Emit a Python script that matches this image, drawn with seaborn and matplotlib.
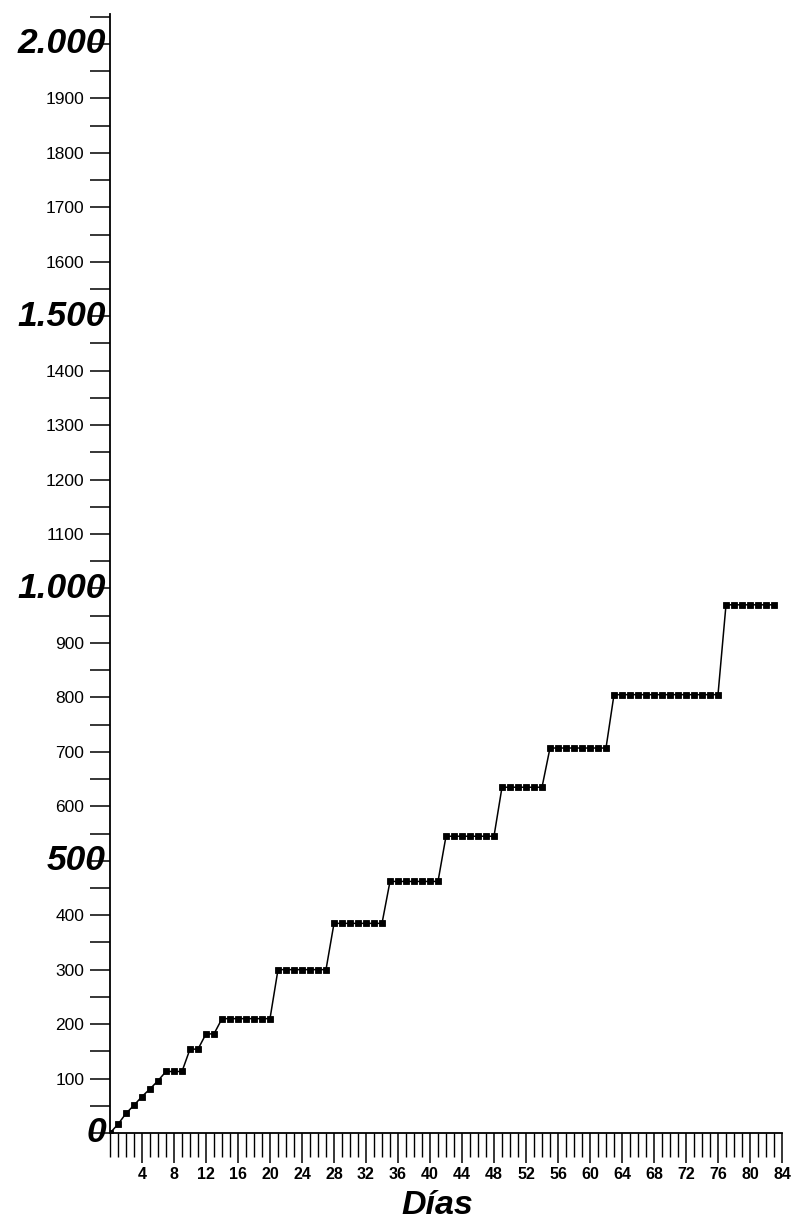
import matplotlib
matplotlib.use("Agg")
import matplotlib.pyplot as plt
import seaborn as sns
import pandas as pd
from matplotlib.ticker import FixedLocator, FuncFormatter

# ---- data ----
dias = [0, 1, 2, 3, 4, 5, 6, 7, 8, 9, 10, 11, 12, 13, 14, 15, 16, 17, 18, 19, 20,
        21, 22, 23, 24, 25, 26, 27, 28, 29, 30, 31, 32, 33, 34, 35, 36, 37, 38, 39,
        40, 41, 42, 43, 44, 45, 46, 47, 48, 49, 50, 51, 52, 53, 54, 55, 56, 57, 58,
        59, 60, 61, 62, 63, 64, 65, 66, 67, 68, 69, 70, 71, 72, 73, 74, 75, 76, 77,
        78, 79, 80, 81, 82, 83]
valores = [0, 16, 36, 51, 67, 81, 96,
           113, 113, 113,
           154, 154,
           182, 182,
           210, 210, 210, 210, 210, 210, 210,
           300, 300, 300, 300, 300, 300, 300,
           385, 385, 385, 385, 385, 385, 385,
           462, 462, 462, 462, 462, 462, 462,
           545, 545, 545, 545, 545, 545, 545,
           635, 635, 635, 635, 635, 635,
           707, 707, 707, 707, 707, 707, 707, 707,
           805, 805, 805, 805, 805, 805, 805, 805, 805, 805, 805, 805, 805, 805,
           970, 970, 970, 970, 970, 970, 970]

x_major = [4, 8, 12, 16, 20, 24, 28, 32, 36, 40, 44, 48, 52, 56, 60, 64, 68, 72, 76, 80, 84]
x_labels = ["4", "8", "12", "16", "20", "24", "28", "32", "36", "40", "44", "48",
            "52", "56", "60", "64", "68", "72", "76", "80", "84"]
y_major = [0, 100, 200, 300, 400, 500, 600, 700, 800, 900, 1000,
           1100, 1200, 1300, 1400, 1500, 1600, 1700, 1800, 1900, 2000]
y_bold = [0, 500, 1000, 1500, 2000]
y_bold_labels = ["0", "500", "1.000", "1.500", "2.000"]
x_title = "Días"

df = pd.DataFrame({"dias": dias, "valores": valores})

sns.set_theme(style="ticks")
plt.rcParams["font.family"] = ["Liberation Sans", "DejaVu Sans"]

W, H = 793, 1226
fig = plt.figure(figsize=(W / 100, H / 100), dpi=100)
ax = fig.add_axes([110 / W, (H - 1133) / H, 672 / W, 1119 / H])

sns.lineplot(data=df, x="dias", y="valores", ax=ax, color="black",
             linewidth=1.1, marker="s", markersize=4, markeredgewidth=0.6,
             markeredgecolor="black", markerfacecolor="black")

ax.set_xlim(0, 84)
ax.set_ylim(0, 2055)

for s in ["top", "right"]:
    ax.spines[s].set_visible(False)
for s in ["left", "bottom"]:
    ax.spines[s].set_linewidth(1.3)
    ax.spines[s].set_color("black")

# x axis ticks
ax.xaxis.set_major_locator(FixedLocator(x_major))
ax.set_xticklabels(x_labels)
ax.xaxis.set_minor_locator(FixedLocator(dias + [84]))
ax.tick_params(axis="x", which="major", direction="out", length=21.5, width=1.1,
               pad=3, labelsize=11.5, colors="black")
ax.tick_params(axis="x", which="minor", direction="out", length=17, width=1.0,
               colors="black")
for lab in ax.get_xticklabels():
    lab.set_fontweight("bold")

# y axis ticks
ax.yaxis.set_major_locator(FixedLocator(y_major))
ax.yaxis.set_minor_locator(FixedLocator([v + 50 for v in y_major[:-1]] + [2050]))
ax.yaxis.set_major_formatter(FuncFormatter(
    lambda v, p: "" if int(round(v)) in y_bold else f"{int(round(v))}"))
ax.tick_params(axis="y", which="both", direction="out", length=14.5, width=1.1,
               colors="black")
ax.tick_params(axis="y", which="major", pad=4, labelsize=12.5)

for v, t in zip(y_bold, y_bold_labels):
    ax.annotate(t, xy=(0, v), xycoords=("axes fraction", "data"),
                xytext=(-3, 0), textcoords="offset points",
                ha="right", va="center", fontsize=25.5, fontweight="bold",
                fontstyle="italic", color="black", annotation_clip=False)

ax.set_xlabel("")
ax.set_ylabel("")
fig.text(437 / W, 1 - 1206 / H, x_title, ha="center", va="center",
         fontsize=24.5, fontweight="bold", fontstyle="italic", color="black")

fig.savefig("out.png", dpi=100, facecolor="white")
